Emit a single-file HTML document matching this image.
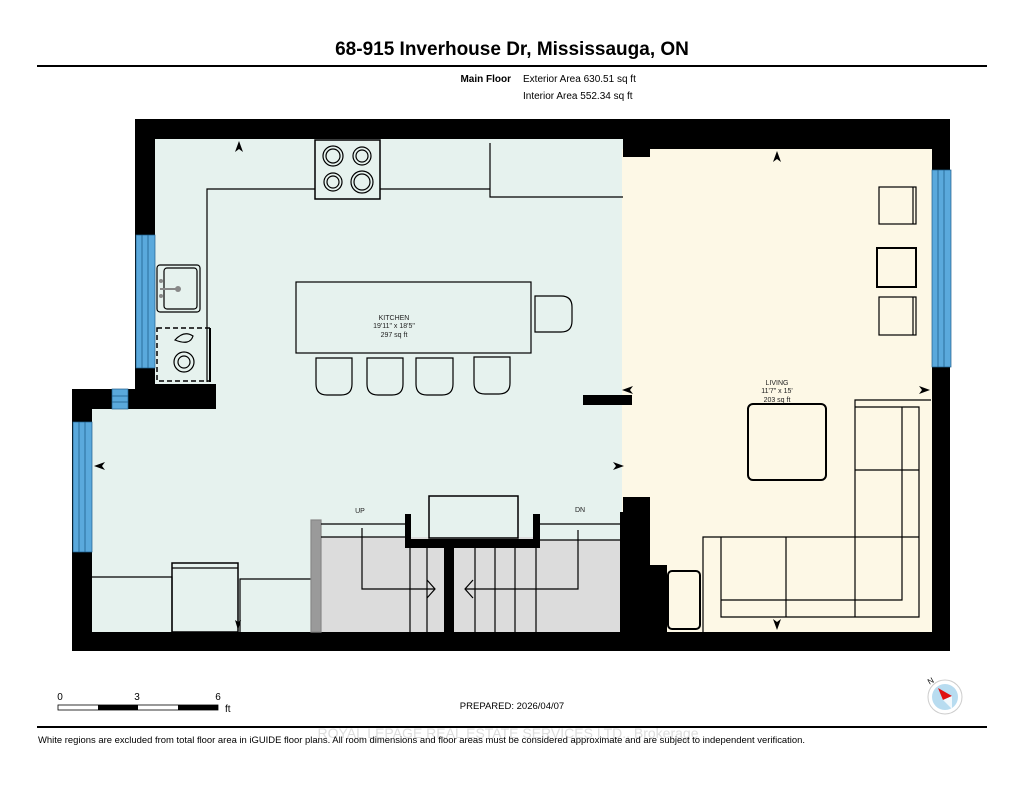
<!DOCTYPE html>
<html><head><meta charset="utf-8"><style>
body{margin:0;background:#fff;width:1024px;height:791px;overflow:hidden;font-family:"Liberation Sans",sans-serif}
svg{display:block}
</style></head><body>
<svg width="1024" height="791" viewBox="0 0 1024 791" xmlns="http://www.w3.org/2000/svg" font-family="Liberation Sans, sans-serif">
<text x="512" y="55" text-anchor="middle" font-size="19" font-weight="bold" fill="#000">68-915 Inverhouse Dr, Mississauga, ON</text>
<rect x="37" y="65" width="950" height="2" fill="#000"/>
<text x="511" y="82" text-anchor="end" font-size="10" font-weight="bold">Main Floor</text>
<text x="523" y="82" font-size="10">Exterior Area 630.51 sq ft</text>
<text x="523" y="99" font-size="10">Interior Area 552.34 sq ft</text>

<rect x="155" y="139" width="470" height="493" fill="#e6f2ee"/>
<rect x="92" y="405" width="533" height="227" fill="#e6f2ee"/>
<rect x="622" y="149" width="310" height="483" fill="#fdf8e6"/>
<rect x="321" y="537" width="302" height="95" fill="#dcdcdc"/>
<rect x="321" y="524" width="84" height="13" fill="#e6f2ee"/>
<rect x="540" y="524" width="83" height="16" fill="#e6f2ee"/>

<g fill="#000">
<rect x="135" y="119" width="815" height="20"/>
<rect x="650" y="119" width="300" height="30"/>
<rect x="623" y="139" width="27" height="18"/>
<rect x="135" y="119" width="20" height="270"/>
<rect x="72" y="389" width="144" height="20"/>
<rect x="155" y="384" width="61" height="25"/>
<rect x="72" y="389" width="20" height="262"/>
<rect x="72" y="632" width="878" height="19"/>
<rect x="932" y="119" width="18" height="532"/>
<rect x="623" y="497" width="27" height="135"/>
<rect x="650" y="565" width="17" height="67"/>
<rect x="583" y="395" width="49" height="10"/>
<rect x="405" y="514" width="6" height="34"/>
<rect x="533" y="514" width="7" height="34"/>
<rect x="405" y="539" width="135" height="9"/>
<rect x="444" y="548" width="10" height="84"/>
<rect x="620" y="512" width="3" height="120"/>
</g>
<g fill="#5aa9dc" stroke="#1f5f8c" stroke-width="0.7">
<rect x="136" y="235" width="19" height="133"/>
<rect x="112" y="389" width="16" height="20"/>
<rect x="73" y="422" width="19" height="130"/>
<rect x="932" y="170" width="19" height="197"/>
</g>
<g stroke="#1f5f8c" stroke-width="0.8">
<line x1="142" y1="235" x2="142" y2="368"/><line x1="148" y1="235" x2="148" y2="368"/>
<line x1="79" y1="422" x2="79" y2="552"/><line x1="85" y1="422" x2="85" y2="552"/>
<line x1="938" y1="170" x2="938" y2="367"/><line x1="944" y1="170" x2="944" y2="367"/>
<line x1="112" y1="396" x2="128" y2="396"/><line x1="112" y1="402" x2="128" y2="402"/>
</g>

<g fill="none" stroke="#000" stroke-width="1.2">
<polyline points="207,382 207,189 315,189"/>
<line x1="380" y1="189" x2="490" y2="189"/>
<rect x="315" y="140" width="65" height="59" fill="#e6f2ee" stroke-width="1.5"/>
<circle cx="333" cy="156" r="10"/><circle cx="333" cy="156" r="7"/>
<circle cx="362" cy="156" r="9"/><circle cx="362" cy="156" r="6"/>
<circle cx="333" cy="182" r="9"/><circle cx="333" cy="182" r="6"/>
<circle cx="362" cy="182" r="11"/><circle cx="362" cy="182" r="8"/>
<polyline points="490,143 490,197 623,197"/>
<rect x="157" y="265" width="43" height="47" rx="3"/>
<rect x="164" y="268" width="33" height="41" rx="3"/>
<rect x="157" y="328" width="53" height="53" stroke-dasharray="5,3" stroke-width="1.5"/>
<line x1="210" y1="328" x2="210" y2="382" stroke-width="2"/>
<circle cx="184" cy="362" r="10"/><circle cx="184" cy="362" r="6"/>
<path d="M175,340 Q184,330 193,336 Q190,346 175,340Z"/>
<rect x="296" y="282" width="235" height="71"/>
<path d="M316,358 h36 v26 q0,11 -11,11 h-14 q-11,0 -11,-11z"/>
<path d="M367,358 h36 v26 q0,11 -11,11 h-14 q-11,0 -11,-11z"/>
<path d="M416,358 h37 v26 q0,11 -11,11 h-15 q-11,0 -11,-11z"/>
<path d="M474,357 h36 v26 q0,11 -11,11 h-14 q-11,0 -11,-11z"/>
<path d="M535,296 h26 q11,0 11,11 v14 q0,11 -11,11 h-26z"/>
<polyline points="92,577 172,577 172,632"/>
<rect x="172" y="563" width="66" height="69" stroke-width="1.5"/>
<line x1="172" y1="568" x2="238" y2="568"/>
<polyline points="240,632 240,579 312,579"/>
<rect x="311" y="520" width="10" height="112" fill="#9a9a9a" stroke="#888"/>
<polyline points="321,524 405,524"/><polyline points="321,537 405,537"/>
<polyline points="540,524 623,524"/><polyline points="540,540 623,540"/>
<line x1="410" y1="548" x2="410" y2="632"/><line x1="427" y1="548" x2="427" y2="632"/>
<line x1="475" y1="548" x2="475" y2="632"/><line x1="495" y1="548" x2="495" y2="632"/>
<line x1="515" y1="548" x2="515" y2="632"/><line x1="536" y1="548" x2="536" y2="632"/>
<polyline points="362,528 362,589 435,589"/><polyline points="427,580 435,589 427,598"/>
<polyline points="578,530 578,589 465,589"/><polyline points="473,580 465,589 473,598"/>
<rect x="429" y="496" width="89" height="42" fill="#e6f2ee" stroke-width="1.5"/>
<rect x="879" y="187" width="37" height="37"/><line x1="913" y1="187" x2="913" y2="224"/>
<rect x="877" y="248" width="39" height="39" stroke-width="2"/>
<rect x="879" y="297" width="37" height="38"/><line x1="913" y1="297" x2="913" y2="335"/>
<rect x="748" y="404" width="78" height="76" rx="5" stroke-width="2"/>
<polyline points="703,632 703,537 855,537 855,400 931,400"/>
<polyline points="721,600 902,600 902,407"/>
<polyline points="721,537 721,600"/>
<polyline points="855,407 919,407 919,617 721,617 721,600"/>
<line x1="786" y1="537" x2="786" y2="617"/><line x1="855" y1="537" x2="855" y2="617"/>
<line x1="855" y1="470" x2="919" y2="470"/><line x1="855" y1="537" x2="919" y2="537"/>
<rect x="668" y="571" width="32" height="58" rx="4" stroke-width="2"/>
</g>
<g fill="#888"><circle cx="161" cy="281" r="2"/><circle cx="161" cy="296" r="2"/><rect x="160" y="288" width="16" height="2"/><circle cx="178" cy="289" r="3"/></g>
<g fill="#000">
<path d="M239,141 l-4,11 l4,-3 l4,3z"/>
<path d="M777,151 l-4,11 l4,-3 l4,3z"/>
<path d="M777,630 l-4,-11 l4,3 l4,-3z"/>
<path d="M94,466 l11,-4 l-3,4 l3,4z"/>
<path d="M624,466 l-11,-4 l3,4 l-3,4z"/>
<path d="M622,390 l11,-4 l-3,4 l3,4z"/>
<path d="M930,390 l-11,-4 l3,4 l-3,4z"/>
<path d="M238,630 l-3,-10 l3,2 l3,-2z"/>
</g>
<g font-size="7" text-anchor="middle" fill="#222">
<text x="394" y="320">KITCHEN</text><text x="394" y="328">19'11" x 18'5"</text><text x="394" y="337">297 sq ft</text>
<text x="777" y="385">LIVING</text><text x="777" y="393">11'7" x 15'</text><text x="777" y="402">203 sq ft</text>
<text x="360" y="513">UP</text><text x="580" y="512">DN</text>
</g>
<g font-size="10">
<text x="60" y="700" text-anchor="middle">0</text><text x="137" y="700" text-anchor="middle">3</text><text x="218" y="700" text-anchor="middle">6</text>
<text x="225" y="712">ft</text>
<text x="512" y="709" text-anchor="middle" font-size="9.5">PREPARED: 2026/04/07</text>
</g>
<rect x="58" y="705" width="160" height="5" fill="#fff" stroke="#000" stroke-width="0.8"/>
<rect x="98" y="705" width="40" height="5" fill="#000"/><rect x="178" y="705" width="40" height="5" fill="#000"/>
<circle cx="945" cy="697" r="17" fill="#fff" stroke="#ccc"/>
<circle cx="945" cy="697" r="13" fill="#b8dcf0"/>
<path d="M938,688 l14,8 l-9,4z" fill="#e01010"/>
<path d="M943,700 l9,-4 l0,13z" fill="#fff" opacity="0.8"/>
<text x="928" y="683" font-size="8" transform="rotate(-30 932 681)">N</text>
<rect x="37" y="726" width="950" height="2" fill="#000"/>
<text x="508" y="738" text-anchor="middle" font-size="14" fill="#ddd">ROYAL LEPAGE REAL ESTATE SERVICES LTD., Brokerage</text>
<text x="38" y="743" font-size="9" textLength="767" lengthAdjust="spacingAndGlyphs">White regions are excluded from total floor area in iGUIDE floor plans. All room dimensions and floor areas must be considered approximate and are subject to independent verification.</text>
</svg>
</body></html>
